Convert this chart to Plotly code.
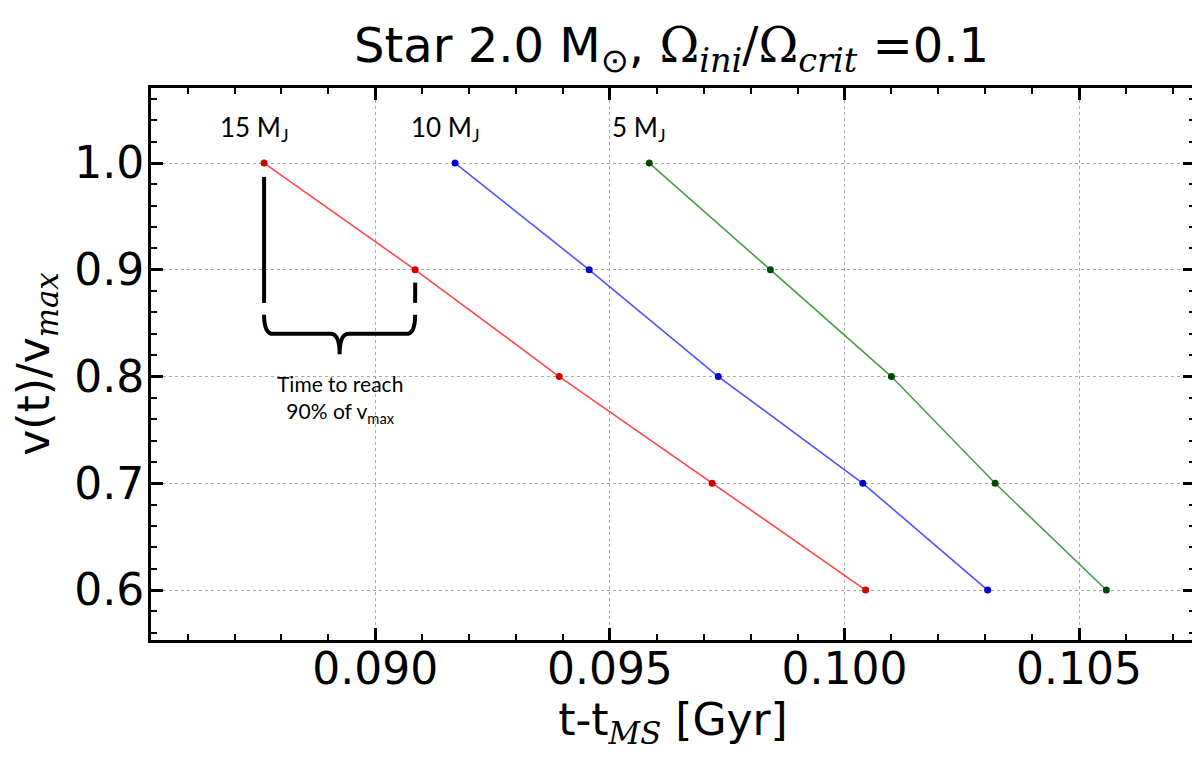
import plotly.graph_objects as go

# v(t)/vmax levels and the times (Gyr after MS)
v_ratio = [1.0, 0.9, 0.8, 0.7, 0.6]
t_15mj = [0.08763, 0.09085, 0.09392, 0.09718, 0.10045]
t_10mj = [0.09170, 0.09456, 0.09731, 0.10039, 0.10305]
t_5mj = [0.09584, 0.09842, 0.10100, 0.10321, 0.10558]

planet_labels = ['15 M<sub>J</sub>', '10 M<sub>J</sub>', '5 M<sub>J</sub>']
line_cols = ['rgba(255,40,40,0.85)', 'rgba(50,50,255,0.85)', 'rgba(40,140,40,0.85)']
mark_cols = ['#d00000', '#0000d0', '#004800']

x_ticks = [0.090, 0.095, 0.100, 0.105]
x_ticklabels = ['0.090', '0.095', '0.100', '0.105']
y_ticks = [0.6, 0.7, 0.8, 0.9, 1.0]

serif = 'DejaVu Serif'
fig = go.Figure()

series = [t_15mj, t_10mj, t_5mj]
for i, tt in enumerate(series):
    fig.add_trace(go.Scatter(x=tt, y=v_ratio, mode='lines+markers',
                             line=dict(color=line_cols[i], width=1.6),
                             marker=dict(color=mark_cols[i], size=7),
                             showlegend=False))
    fig.add_annotation(x=tt[0], y=1.032, text=planet_labels[i], showarrow=False,
                       xshift=-10, font=dict(family='Lato', size=26, color='black'))

# brace showing time to reach 90% of vmax (15 MJ case)
xl, xr = t_15mj[0], t_15mj[1]
xc = (xl + xr) / 2
fig.add_shape(type='line', x0=xl, x1=xl, y0=0.987, y1=0.869,
              line=dict(color='black', width=4))
fig.add_shape(type='line', x0=xr, x1=xr, y0=0.888, y1=0.869,
              line=dict(color='black', width=4))
dx = (xr - xl) * 0.06
ytop, ymid, ytip = 0.858, 0.840, 0.821
brace = (f'M {xl},{ytop} Q {xl},{ymid} {xl+dx},{ymid} '
         f'L {xc-dx},{ymid} Q {xc},{ymid} {xc},{ytip} '
         f'Q {xc},{ymid} {xc+dx},{ymid} '
         f'L {xr-dx},{ymid} Q {xr},{ymid} {xr},{ytop}')
fig.add_shape(type='path', path=brace, line=dict(color='black', width=4))
fig.add_annotation(x=xc, y=0.779, text='Time to reach<br>90% of v<sub>max</sub>',
                   showarrow=False, font=dict(family='Lato', size=21, color='black'))

fig.update_layout(
    width=1200, height=762,
    paper_bgcolor='white', plot_bgcolor='white',
    # page body has an 8px margin, so the figure is shifted by that much
    margin=dict(l=143, r=13, t=80, b=130),
    title=dict(text=(f'Star 2.0 M<sub>⊙</sub>, <span style="font-family:{serif}">Ω<sub><i>ini</i></sub>'
                     f'/Ω<sub><i>crit</i></sub></span> =0.1'),
               x=0.553, xanchor='center', y=0.951, yanchor='middle',
               font=dict(family='DejaVu Sans', size=48, color='black')),
    font=dict(family='DejaVu Sans', color='black'),
)
fig.update_xaxes(range=[0.08522, 0.10747], tickvals=x_ticks, ticktext=x_ticklabels,
                 ticks='inside', ticklen=12, tickwidth=2.5, tickcolor='black',
                 minor=dict(dtick=0.001, ticks='inside', ticklen=6, tickwidth=2,
                            tickcolor='black', showgrid=False),
                 showline=True, linecolor='black', linewidth=3, mirror='ticks',
                 showgrid=True, gridcolor='#a8a8a8', griddash='dot', gridwidth=1,
                 zeroline=False, tickfont=dict(size=44), ticklabelstandoff=-12,
                 automargin=False,
                 title=dict(text=f't-t<sub><span style="font-family:{serif}"><i>MS</i></span></sub> [Gyr]',
                            font=dict(size=44), standoff=1))
fig.update_yaxes(range=[0.5532, 1.0703], tickvals=y_ticks, tickformat='.1f',
                 ticks='inside', ticklen=12, tickwidth=2.5, tickcolor='black',
                 minor=dict(dtick=0.02, tick0=0.0, ticks='inside', ticklen=6, tickwidth=2,
                            tickcolor='black', showgrid=False),
                 showline=True, linecolor='black', linewidth=3, mirror='ticks',
                 showgrid=True, gridcolor='#a8a8a8', griddash='dot', gridwidth=1,
                 zeroline=False, tickfont=dict(size=44), ticklabelstandoff=-5,
                 automargin=False,
                 title=dict(text=f'v(t)/v<sub><span style="font-family:{serif}"><i>max</i></span></sub>',
                            font=dict(size=44), standoff=32))

fig.write_html("out.html")
